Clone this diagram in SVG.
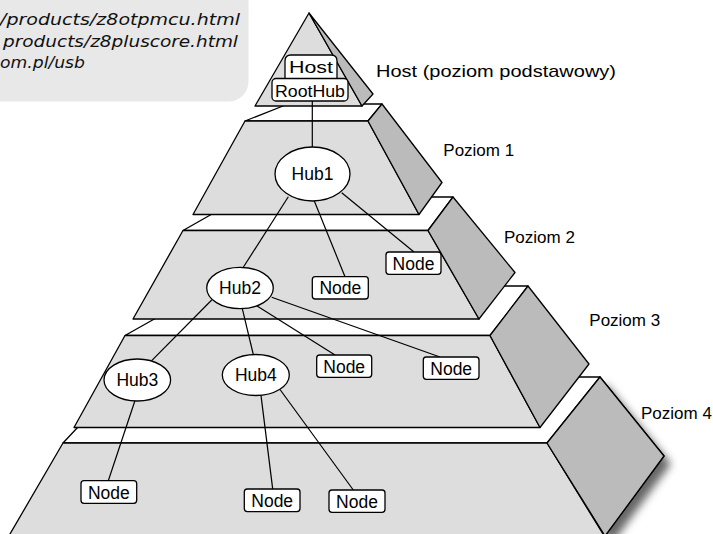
<svg xmlns="http://www.w3.org/2000/svg" width="713" height="534" viewBox="0 0 713 534">
  <defs>
    <style>
      .front { fill: #dddddd; stroke: #000; stroke-width: 1.3; stroke-linejoin: round; }
      .side { fill: #bbbbbb; stroke: #000; stroke-width: 1.3; stroke-linejoin: round; }
      .topf { fill: #ffffff; stroke: #000; stroke-width: 1.3; stroke-linejoin: round; }
      .hub { fill: #ffffff; stroke: #000; stroke-width: 1.3; }
      .box { fill: #ffffff; stroke: #000; stroke-width: 1.3; }
      .lbl { font-family: "Liberation Sans", Arial, Helvetica, sans-serif; font-size: 17px; fill: #000; }
      .nd { font-size: 17.5px; }
      .ctr { text-anchor: middle; }
      .url { font-family: "DejaVu Sans", "Liberation Sans", sans-serif; font-style: italic; font-size: 16px; fill: #111; }
      .conn line { stroke: #000; stroke-width: 1.2; }
    </style>
    <filter id="shadow" x="-30%" y="-30%" width="180%" height="180%">
      <feDropShadow dx="6" dy="8" stdDeviation="4.5" flood-color="#000" flood-opacity="0.6"/>
    </filter>
  </defs>

  <!-- info box -->
  <g id="info">
    <rect x="-30" y="-30" width="278.5" height="131.5" rx="20" ry="20" fill="#e8e8e8"/>
    <text class="url" x="0" y="25" textLength="240" lengthAdjust="spacingAndGlyphs">/products/z8otpmcu.html</text>
    <text class="url" x="3" y="46.7" textLength="235" lengthAdjust="spacingAndGlyphs">products/z8pluscore.html</text>
    <text class="url" x="0" y="68.3" textLength="85" lengthAdjust="spacingAndGlyphs">om.pl/usb</text>
  </g>

  <!-- pyramid -->
  <g id="level4">
    <polygon class="side" points="547,443 600,377 664,456 605,536" filter="url(#shadow)"/>
    <polygon class="topf" points="63,443 125,377 600,377 547,443"/>
    <polygon class="front" points="63,443 547,443 606.7,540 6.5,540"/>
    <polygon class="side" points="547,443 600,377 664,456 605,536"/>
  </g>
  <g id="level3">
    <polygon class="topf" points="125,335.5 213,286 528,286 490,335.5"/>
    <polygon class="front" points="125,335.5 490,335.5 540,427.5 74,427.5"/>
    <polygon class="side" points="490,335.5 528,286 589,364 540,427.5"/>
  </g>
  <g id="level2">
    <polygon class="topf" points="183,230.5 242,197 453,197 428,230.5"/>
    <polygon class="front" points="183,230.5 428,230.5 479,319 133,319"/>
    <polygon class="side" points="428,230.5 453,197 515,272.5 479,319"/>
  </g>
  <g id="level1">
    <polygon class="topf" points="245,121 288,104 382,104 368,121"/>
    <polygon class="front" points="245,121 368,121 419,214.5 193,214.5"/>
    <polygon class="side" points="368,121 382,104 442,182.5 419,214.5"/>
  </g>
  <g id="level0">
    <polygon class="front" points="309,13 362,106 255,106"/>
    <polygon class="side" points="309,13 373,94 362,106"/>
  </g>

  <!-- level labels -->
  <g id="labels">
    <text class="lbl" x="376" y="77" font-size="18" textLength="240" lengthAdjust="spacingAndGlyphs">Host (poziom podstawowy)</text>
    <text class="lbl" x="443.3" y="155.7">Poziom 1</text>
    <text class="lbl" x="504" y="242.7">Poziom 2</text>
    <text class="lbl" x="589.3" y="326">Poziom 3</text>
    <text class="lbl" x="641" y="419.3">Poziom 4</text>
  </g>

  <!-- connectors -->
  <g id="connectors" class="conn">
    <line x1="312.3" y1="101" x2="312.3" y2="147"/>
    <line x1="288.3" y1="196.7" x2="243.3" y2="267.3"/>
    <line x1="314.3" y1="201" x2="345" y2="276.7"/>
    <line x1="341.7" y1="192.7" x2="414" y2="252"/>
    <line x1="211.7" y1="300" x2="151.7" y2="360.7"/>
    <line x1="242.3" y1="308.7" x2="253.3" y2="354.5"/>
    <line x1="256.7" y1="305.7" x2="335" y2="355"/>
    <line x1="271.7" y1="297.3" x2="440" y2="357"/>
    <line x1="135" y1="400.5" x2="108.3" y2="480.7"/>
    <line x1="261" y1="395.5" x2="272.7" y2="489"/>
    <line x1="280" y1="389.5" x2="353.3" y2="490"/>
  </g>

  <!-- nodes -->
  <g id="host">
    <path class="box" d="M285,79 V61 Q285,55 291,55 H331 Q337,55 337,61 V79 Z"/>
    <text class="lbl ctr" x="311" y="72.5" font-size="20" textLength="44" lengthAdjust="spacingAndGlyphs">Host</text>
  </g>
  <g id="roothub">
    <rect class="box" x="272" y="78.5" width="76" height="22.5" rx="4"/>
    <text class="lbl ctr" x="310" y="96.5" font-size="18" textLength="70" lengthAdjust="spacingAndGlyphs">RootHub</text>
  </g>
  <g id="hub1">
    <ellipse class="hub" cx="312.5" cy="174" rx="37.5" ry="27"/>
    <text class="lbl nd ctr" x="312.5" y="180">Hub1</text>
  </g>
  <g id="hub2">
    <ellipse class="hub" cx="240" cy="288" rx="33.3" ry="20.7"/>
    <text class="lbl nd ctr" x="240" y="294.3">Hub2</text>
  </g>
  <g id="hub3">
    <ellipse class="hub" cx="137.3" cy="380" rx="33.3" ry="21"/>
    <text class="lbl nd ctr" x="137.3" y="386.3">Hub3</text>
  </g>
  <g id="hub4">
    <ellipse class="hub" cx="255.8" cy="375" rx="33.5" ry="20.5"/>
    <text class="lbl nd ctr" x="255.8" y="381.3">Hub4</text>
  </g>
  <g id="node1">
    <rect class="box" x="312.3" y="276.7" width="56" height="22.3" rx="3"/>
    <text class="lbl nd ctr" x="340.3" y="294.3">Node</text>
  </g>
  <g id="node2">
    <rect class="box" x="386" y="252" width="55" height="22.3" rx="3"/>
    <text class="lbl nd ctr" x="413.5" y="269.6">Node</text>
  </g>
  <g id="node3">
    <rect class="box" x="316.7" y="355" width="55" height="22.3" rx="3"/>
    <text class="lbl nd ctr" x="344.2" y="372.6">Node</text>
  </g>
  <g id="node4">
    <rect class="box" x="423.3" y="357" width="55.7" height="22.3" rx="3"/>
    <text class="lbl nd ctr" x="451.2" y="374.6">Node</text>
  </g>
  <g id="node5">
    <rect class="box" x="81" y="480.7" width="55.7" height="22.6" rx="3"/>
    <text class="lbl nd ctr" x="108.8" y="498.5">Node</text>
  </g>
  <g id="node6">
    <rect class="box" x="244.3" y="489" width="55.7" height="22.6" rx="3"/>
    <text class="lbl nd ctr" x="272.2" y="506.8">Node</text>
  </g>
  <g id="node7">
    <rect class="box" x="329" y="490" width="56" height="22.3" rx="3"/>
    <text class="lbl nd ctr" x="357" y="507.6">Node</text>
  </g>
</svg>
